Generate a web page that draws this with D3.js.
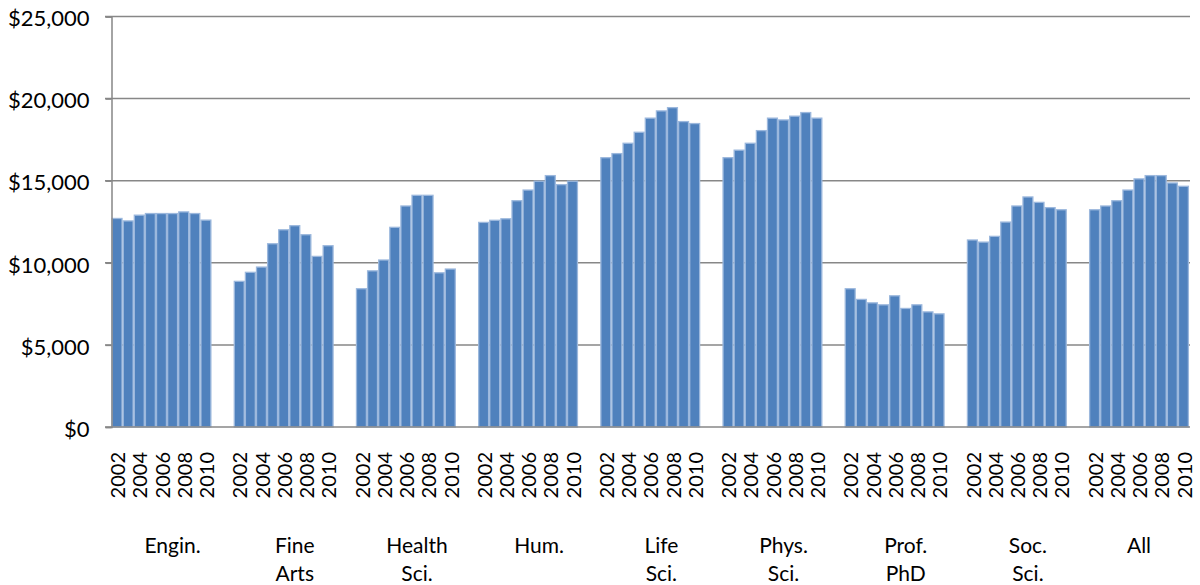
<!DOCTYPE html>
<html>
<head>
<meta charset="utf-8">
<script src="https://cdn.jsdelivr.net/npm/d3@7"></script>
<style>
  body { margin: 0; background: #fff; }
  text { font-family: Lato, "Open Sans", sans-serif; fill: #000; }
</style>
</head>
<body>
<svg id="chart" width="1200" height="585"></svg>
<script>
// categories
const years = [2002, 2003, 2004, 2005, 2006, 2007, 2008, 2009, 2010];
const groups = [
  ["Engin."], ["Fine", "Arts"], ["Health", "Sci."], ["Hum."],
  ["Life", "Sci."], ["Phys.", "Sci."], ["Prof.", "PhD"], ["Soc.", "Sci."], ["All"]
];
const yTicks = [0, 5000, 10000, 15000, 20000, 25000];

// values by field, 2002..2010
const engin    = [12700, 12550, 12900, 13000, 13000, 13000, 13100, 13000, 12600];
const fineArts = [8870, 9420, 9740, 11160, 12010, 12260, 11710, 10390, 11040];
const health   = [8420, 9510, 10170, 12160, 13460, 14110, 14110, 9390, 9620];
const hum      = [12460, 12590, 12680, 13780, 14430, 14970, 15310, 14760, 14970];
const lifeSci  = [16400, 16650, 17280, 17950, 18810, 19250, 19450, 18600, 18480];
const physSci  = [16400, 16860, 17280, 18050, 18810, 18700, 18930, 19150, 18810];
const profPhd  = [8420, 7770, 7560, 7440, 7990, 7220, 7440, 7010, 6890];
const socSci   = [11390, 11260, 11610, 12480, 13460, 14010, 13680, 13360, 13230];
const all      = [13230, 13460, 13780, 14430, 15110, 15310, 15310, 14860, 14660];

const series = [engin, fineArts, health, hum, lifeSci, physSci, profPhd, socSci, all];

// each group takes 9 year slots plus 2 empty slots (none after the last one)
const slotsPerGroup = years.length + 2;
const nSlots = slotsPerGroup * (groups.length - 1) + years.length;

const data = [];
series.forEach((vals, g) => {
  vals.forEach((v, i) => data.push({ g, i, year: years[i], value: v, slot: g * slotsPerGroup + i }));
});

const svg = d3.select("#chart");

const x = d3.scaleBand()
  .domain(d3.range(nSlots))
  .range([111.5, 1189])
  .paddingInner(0)
  .paddingOuter(0);

const y = d3.scaleLinear()
  .domain([0, 25000])
  .range([427, 16.5]);

// gridlines
svg.append("g")
  .selectAll("line")
  .data(yTicks.filter(d => d > 0))
  .join("line")
  .attr("x1", 105)
  .attr("x2", 1190)
  .attr("y1", d => y(d))
  .attr("y2", d => y(d))
  .attr("stroke", "#878787")
  .attr("stroke-width", 1.5);

// bars
svg.append("g")
  .selectAll("rect")
  .data(data)
  .join("rect")
  .attr("x", d => x(d.slot) + 0.6)
  .attr("width", x.bandwidth() - 1.2)
  .attr("y", d => y(d.value))
  .attr("height", d => y(0) - y(d.value))
  .attr("fill", "#4f81bd")
  .attr("stroke", "#9cb8dd")
  .attr("stroke-width", 1.3);

// y axis
const yAxis = svg.append("g")
  .attr("transform", "translate(111.5,0)")
  .call(d3.axisLeft(y).tickValues(yTicks).tickFormat(d3.format("$,")).tickSize(6).tickPadding(16));
yAxis.select(".domain").attr("stroke", "#878787").attr("stroke-width", 1.5);
yAxis.selectAll(".tick line").attr("stroke", "#878787").attr("stroke-width", 1.5);
yAxis.selectAll(".tick text")
  .attr("font-size", 22)
  .attr("font-family", "Lato, sans-serif")
  .attr("dy", "0.42em");

// zero baseline
svg.append("line")
  .attr("x1", 105).attr("x2", 1190)
  .attr("y1", y(0)).attr("y2", y(0))
  .attr("stroke", "#878787")
  .attr("stroke-width", 1.5);

// year labels (every other year)
svg.append("g")
  .selectAll("text")
  .data(data.filter(d => d.i % 2 === 0))
  .join("text")
  .attr("transform", d => `translate(${x(d.slot) + x.bandwidth() / 2 + 1},452) rotate(-90)`)
  .attr("text-anchor", "end")
  .attr("dy", "0.36em")
  .attr("font-size", 20)
  .text(d => d.year);

// group labels
const groupLabels = svg.append("g")
  .selectAll("text")
  .data(groups)
  .join("text")
  .attr("text-anchor", "middle")
  .attr("font-size", 21)
  .attr("x", (d, g) => {
    const first = x(g * slotsPerGroup);
    const span = g < groups.length - 1 ? slotsPerGroup : years.length;
    return first + span * x.step() / 2;
  })
  .attr("y", 553);

groupLabels.selectAll("tspan")
  .data(d => d)
  .join("tspan")
  .attr("x", function () { return d3.select(this.parentNode).attr("x"); })
  .attr("dy", (d, i) => i === 0 ? 0 : 28)
  .text(d => d);
</script>
</body>
</html>
